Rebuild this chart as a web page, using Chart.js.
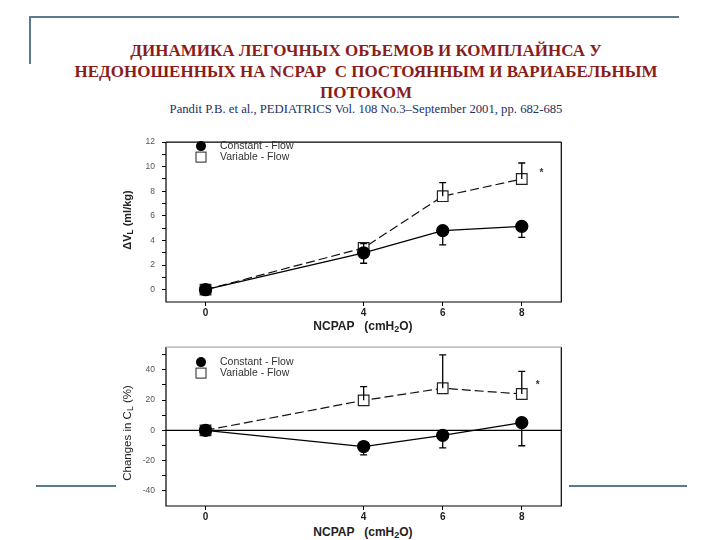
<!DOCTYPE html>
<html lang="ru">
<head>
<meta charset="utf-8">
<title>Динамика легочных объемов и комплайнса</title>
<script src="https://cdn.jsdelivr.net/npm/chart.js@4.4.1/dist/chart.umd.min.js"></script>
<style>
  body { margin: 0; background: #fff; }
  #page { position: relative; width: 720px; height: 540px; overflow: hidden; background: #fff; }
  .deco { position: absolute; background: #5b7a90; }
  .title { position: absolute; left: 0; width: 732px; text-align: center;
           font-family: "Liberation Serif", "DejaVu Serif", serif; font-size: 17px; font-weight: bold;
           color: #8a1c1c; line-height: 21px; }
  .cite { position: absolute; left: 0; width: 732px; text-align: center;
          font-family: "Liberation Serif", "DejaVu Serif", serif; font-size: 12.7px; color: #26305e; }
  canvas { position: absolute; }
  .xt { position: absolute; width: 200px; text-align: center; white-space: pre;
        font-family: "Liberation Sans", Arial, sans-serif; font-size: 12px; font-weight: bold; color: #222; }
  .yt { position: absolute; width: 140px; text-align: center; transform: rotate(-90deg);
        font-family: "Liberation Sans", Arial, sans-serif; font-size: 11.5px; color: #222; }
  sub { font-size: 75%; vertical-align: -2px; line-height: 0; }
</style>
</head>
<body>
<div id="page">
  <div class="deco" style="left:29px; top:16px; width:650px; height:2px;"></div>
  <div class="deco" style="left:29px; top:16px; width:2px; height:48px;"></div>
  <div class="deco" style="left:36px; top:485px; width:80px; height:2px;"></div>
  <div class="deco" style="left:569px; top:485px; width:118px; height:2px;"></div>

  <div class="title" style="top:40px;">ДИНАМИКА ЛЕГОЧНЫХ ОБЪЕМОВ И КОМПЛАЙНСА У<br>НЕДОНОШЕННЫХ НА NCPAP&nbsp; С ПОСТОЯННЫМ И ВАРИАБЕЛЬНЫМ<br>ПОТОКОМ</div>
  <div class="cite" style="top:102px;">Pandit P.B. et al., PEDIATRICS Vol. 108 No.3–September 2001, pp. 682-685</div>

  <canvas id="graficoVolumen" width="460" height="190" style="left:110px; top:130px;"></canvas>
  <canvas id="graficoComplianza" width="460" height="190" style="left:110px; top:335px;"></canvas>

  <div class="yt" style="left:57px; top:214px; font-weight:bold; font-size:11px;">ΔV<sub>L</sub> (ml/kg)</div>
  <div class="yt" style="left:57px; top:427px;">Changes in C<sub>L</sub> (%)</div>
  <div class="xt" style="left:263px; top:319px;">NCPAP   (cmH<sub>2</sub>O)</div>
  <div class="xt" style="left:263px; top:525px;">NCPAP   (cmH<sub>2</sub>O)</div>
</div>

<script>
// Datos
const presiones = [0, 4, 6, 8];
const etiquetasX = [0, 4, 6, 8];

// Panel superior: ΔVL (ml/kg)
const volConstante = [0, 3.0, 4.8, 5.15];
const volConstanteDE = [0, 0.85, 1.15, 0.9];
const volVariable = [0, 3.4, 7.6, 9.0];
const volVariableDE = [0, 0.35, 1.1, 1.3];
const volEstrella = [8.5, 9.6];

// Panel inferior: cambios en CL (%)
const compConstante = [0, -10.7, -3.3, 5.1];
const compConstanteDE = [0, 5.5, 8.3, 15.3];
const compVariable = [0, 19.8, 27.8, 24.0];
const compVariableDE = [0, 9.1, 22.0, 14.9];
const compEstrella = [8.4, 31];

const etiquetasSerie = ['Constant - Flow', 'Variable - Flow'];

const fuente = '"Liberation Sans", Arial, sans-serif';

// Plugin: caja, línea de cero, barras de error, leyenda y asterisco
const pluginFigura = {
    id: 'figura',
    afterDatasetsDraw(chart, args, opts) {
        const ctx = chart.ctx;
        const area = chart.chartArea;
        const x = chart.scales.x;
        const y = chart.scales.y;

        ctx.save();
        // Barras de error (solo hacia un lado, como en el original)
        chart.data.datasets.forEach((ds) => {
            ds.errores.forEach((e, i) => {
                if (!e) return;
                const px = x.getPixelForValue(presiones[i]);
                const py = y.getPixelForValue(ds.data[i].y);
                const pe = y.getPixelForValue(ds.data[i].y + ds.direccion * e);
                ctx.strokeStyle = '#000';
                ctx.lineWidth = 1.3;
                ctx.setLineDash([]);
                ctx.beginPath();
                ctx.moveTo(px, py);
                ctx.lineTo(px, pe);
                ctx.moveTo(px - 3.5, pe);
                ctx.lineTo(px + 3.5, pe);
                ctx.stroke();
            });
        });

        // Asterisco de significancia
        ctx.fillStyle = '#333';
        ctx.font = 'bold 10px ' + fuente;
        ctx.textAlign = 'center';
        ctx.textBaseline = 'middle';
        ctx.fillText('*', x.getPixelForValue(opts.estrella[0]), y.getPixelForValue(opts.estrella[1]) + 2);

        // Leyenda
        const lx = area.left + 35;
        const ly = area.top + opts.leyendaY;
        ctx.fillStyle = '#000';
        ctx.beginPath();
        ctx.arc(lx, ly, 5, 0, Math.PI * 2);
        ctx.fill();
        ctx.fillStyle = '#fff';
        ctx.strokeStyle = '#222';
        ctx.lineWidth = 1;
        ctx.fillRect(lx - 5, ly + 6, 10, 10);
        ctx.strokeRect(lx - 5, ly + 6, 10, 10);
        ctx.fillStyle = '#333';
        ctx.font = '10.5px ' + fuente;
        ctx.textAlign = 'left';
        ctx.fillText(etiquetasSerie[0], lx + 19, ly);
        ctx.fillText(etiquetasSerie[1], lx + 19, ly + 11);
        ctx.restore();
    },
    beforeDatasetsDraw(chart, args, opts) {
        const ctx = chart.ctx;
        const area = chart.chartArea;
        ctx.save();
        ctx.lineWidth = 1.2;
        // Caja del gráfico
        ctx.strokeStyle = '#000';
        ctx.beginPath();
        ctx.moveTo(area.left, area.top);
        ctx.lineTo(area.left, area.bottom);
        ctx.lineTo(area.right, area.bottom);
        ctx.lineTo(area.right, area.top);
        ctx.stroke();
        ctx.strokeStyle = opts.colorSuperior;
        ctx.beginPath();
        ctx.moveTo(area.left, area.top);
        ctx.lineTo(area.right, area.top);
        ctx.stroke();
        // Línea de cero
        if (opts.lineaCero) {
            const y0 = chart.scales.y.getPixelForValue(0);
            ctx.strokeStyle = '#000';
            ctx.beginPath();
            ctx.moveTo(area.left, y0);
            ctx.lineTo(area.right, y0);
            ctx.stroke();
        }
        ctx.restore();
    }
};

function aPuntos(valores) {
    return valores.map((v, i) => ({ x: presiones[i], y: v }));
}

function crearGrafico(id, cfg) {
    const ctx = document.getElementById(id).getContext('2d');
    return new Chart(ctx, {
        type: 'line',
        data: {
            datasets: [{
                label: etiquetasSerie[0],
                data: aPuntos(cfg.constante),
                errores: cfg.constanteDE,
                direccion: -1,
                borderColor: '#000',
                borderWidth: 1.3,
                pointStyle: 'circle',
                pointRadius: 6,
                pointBackgroundColor: '#000',
                pointBorderColor: '#000',
                tension: 0
            }, {
                label: etiquetasSerie[1],
                data: aPuntos(cfg.variable),
                errores: cfg.variableDE,
                direccion: 1,
                borderColor: '#111',
                borderWidth: 1.2,
                borderDash: [9, 4],
                pointStyle: 'rect',
                pointRadius: 7.5,
                pointBackgroundColor: '#fff',
                pointBorderColor: '#222',
                pointBorderWidth: 1.2,
                tension: 0
            }]
        },
        options: {
            responsive: false,
            animation: false,
            layout: { padding: { top: 12, right: 8, left: 0, bottom: 0 } },
            plugins: {
                legend: { display: false },
                tooltip: { enabled: false },
                figura: {
                    estrella: cfg.estrella,
                    leyendaY: cfg.leyendaY,
                    lineaCero: cfg.lineaCero,
                    colorSuperior: cfg.colorSuperior
                }
            },
            scales: {
                x: {
                    type: 'linear',
                    min: -1,
                    max: 9,
                    afterBuildTicks: (scale) => { scale.ticks = etiquetasX.map(v => ({ value: v })); },
                    afterFit: (scale) => { scale.height = cfg.altoX; },
                    grid: { drawOnChartArea: false, tickLength: 4, tickColor: '#000', lineWidth: 1 },
                    border: { display: false },
                    ticks: {
                        padding: 1,
                        color: '#222',
                        font: { family: fuente, size: 10, weight: 'bold' },
                        callback: (v) => String(v)
                    }
                },
                y: {
                    type: 'linear',
                    min: cfg.yMin,
                    max: cfg.yMax,
                    afterBuildTicks: (scale) => { scale.ticks = cfg.ticksY.map(v => ({ value: v })); },
                    afterFit: (scale) => { scale.width = 56; },
                    grid: { drawOnChartArea: false, tickLength: 4, tickColor: '#000', lineWidth: 1 },
                    border: { display: false },
                    ticks: {
                        padding: 7,
                        color: '#555',
                        font: { family: fuente, size: 8.5 },
                        callback: (v) => cfg.etiquetasY.includes(v) ? String(v) : ''
                    }
                }
            }
        },
        plugins: [pluginFigura]
    });
}

crearGrafico('graficoVolumen', {
    constante: volConstante,
    constanteDE: volConstanteDE,
    variable: volVariable,
    variableDE: volVariableDE,
    estrella: volEstrella,
    yMin: -1,
    yMax: 12,
    ticksY: [0, 1, 2, 3, 4, 5, 6, 7, 8, 9, 10, 11, 12],
    etiquetasY: [0, 2, 4, 6, 8, 10, 12],
    altoX: 18,
    leyendaY: 4,
    lineaCero: false,
    colorSuperior: '#000'
});

crearGrafico('graficoComplianza', {
    constante: compConstante,
    constanteDE: compConstanteDE,
    variable: compVariable,
    variableDE: compVariableDE,
    estrella: compEstrella,
    yMin: -50,
    yMax: 55,
    ticksY: [-40, -30, -20, -10, 0, 10, 20, 30, 40, 50],
    etiquetasY: [-40, -20, 0, 20, 40],
    altoX: 19,
    leyendaY: 15,
    lineaCero: true,
    colorSuperior: '#aaa'
});
</script>
</body>
</html>
